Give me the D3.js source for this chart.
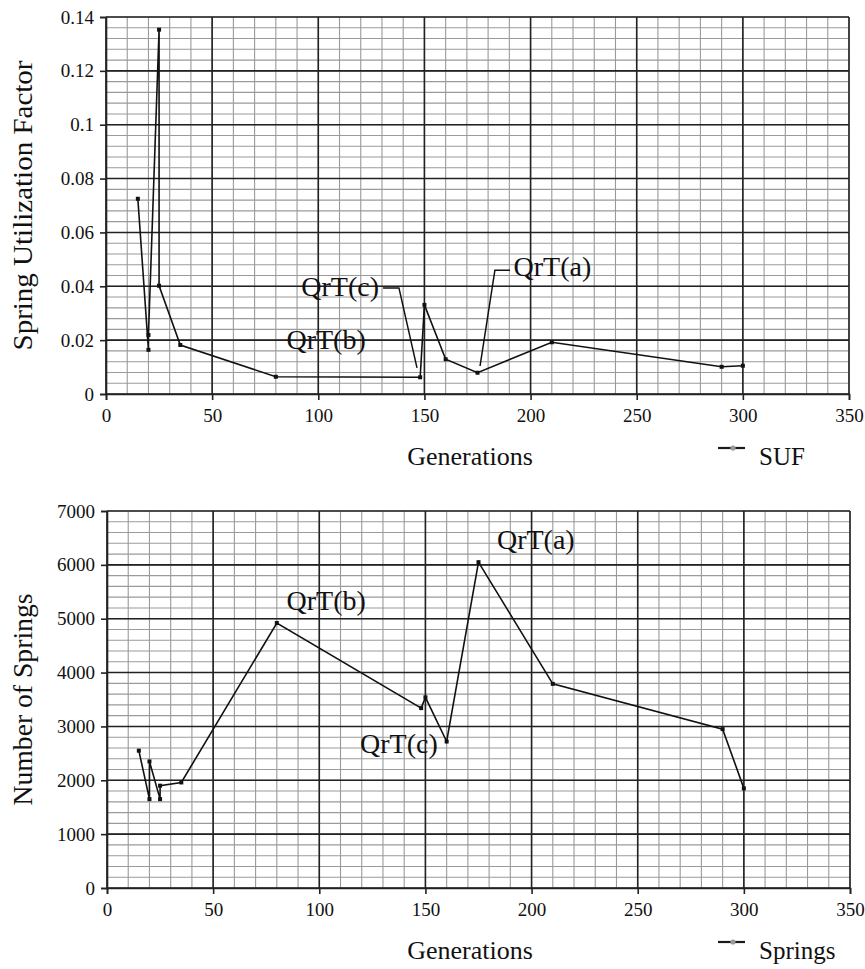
<!DOCTYPE html>
<html>
<head>
<meta charset="utf-8">
<script src="https://cdn.jsdelivr.net/npm/d3@7"></script>
<style>
  body { margin: 0; background: #fff; }
  svg text { font-family: "Liberation Serif", "Times New Roman", serif; fill: #111; }
</style>
</head>
<body>
<svg id="chart" width="865" height="969" font-family="Liberation Serif, serif"></svg>
<script>
// generations where each design was recorded (same for both panels)
var generations = [15, 20, 20, 25, 25, 35, 80, 148, 150, 160, 175, 210, 290, 300];

// top panel: spring utilization factor
var sufValues = [0.0725, 0.0164, 0.0219, 0.1353, 0.0402, 0.0182, 0.0064, 0.0062, 0.0331, 0.0129, 0.0079, 0.0192, 0.0101, 0.0105];

// bottom panel: number of springs
var springValues = [2550, 1650, 2350, 1650, 1900, 1960, 4920, 3340, 3540, 2720, 6050, 3790, 2950, 1850];

// axis ticks
var xTicks = [0, 50, 100, 150, 200, 250, 300, 350];
var sufTicks = [0, 0.02, 0.04, 0.06, 0.08, 0.1, 0.12, 0.14];
var sufTickLabels = ["0", "0.02", "0.04", "0.06", "0.08", "0.1", "0.12", "0.14"];
var springTicks = [0, 1000, 2000, 3000, 4000, 5000, 6000, 7000];
var springTickLabels = ["0", "1000", "2000", "3000", "4000", "5000", "6000", "7000"];

// annotations, anchored in data units
var sufNotes = [
  { text: "QrT(c)", x: 92, y: 0.0364, leader: [[130.5, 0.0394], [138, 0.0394], [146.5, 0.0097]] },
  { text: "QrT(a)", x: 192, y: 0.0438, leader: [[190.3, 0.046], [183.2, 0.046], [176.2, 0.0104]] },
  { text: "QrT(b)", x: 85, y: 0.0167, leader: null }
];
var springNotes = [
  { text: "QrT(b)", x: 84.6, y: 5160 },
  { text: "QrT(a)", x: 183.7, y: 6290 },
  { text: "QrT(c)", x: 119.2, y: 2505 }
];

var svg = d3.select('#chart');
var serif = '"Liberation Serif", "Times New Roman", serif';

function drawPanel(opts) {
  var g = svg.append('g');
  var x = d3.scaleLinear().domain([0, 350]).range([opts.left, opts.right]);
  var y = d3.scaleLinear().domain([0, opts.yMax]).range([opts.bottom, opts.top]);

  //minor grid
  g.selectAll('.vminor').data(d3.range(0, 351, 10))
    .enter().append('line')
    .attr('x1', function(d) { return x(d); }).attr('x2', function(d) { return x(d); })
    .attr('y1', opts.top).attr('y2', opts.bottom)
    .style('stroke', '#9a9a9a').style('stroke-width', 1.1);
  g.selectAll('.hminor').data(d3.range(0, opts.yMax * 1.0001, opts.yMinor))
    .enter().append('line')
    .attr('x1', opts.left).attr('x2', opts.right)
    .attr('y1', function(d) { return y(d); }).attr('y2', function(d) { return y(d); })
    .style('stroke', '#9a9a9a').style('stroke-width', 1.1);

  //major grid
  g.selectAll('.vmajor').data(xTicks)
    .enter().append('line')
    .attr('x1', function(d) { return x(d); }).attr('x2', function(d) { return x(d); })
    .attr('y1', opts.top).attr('y2', opts.bottom)
    .style('stroke', '#222').style('stroke-width', 1.6);
  g.selectAll('.hmajor').data(opts.yTicks)
    .enter().append('line')
    .attr('x1', opts.left).attr('x2', opts.right)
    .attr('y1', function(d) { return y(d); }).attr('y2', function(d) { return y(d); })
    .style('stroke', '#222').style('stroke-width', 1.6);

  //axes
  var xAxis = d3.axisBottom(x).tickValues(xTicks).tickSize(6).tickPadding(9);
  var yAxis = d3.axisLeft(y).tickValues(opts.yTicks).tickSize(6).tickPadding(6)
    .tickFormat(function(d, i) { return opts.yLabels[i]; });

  var gx = g.append('g').attr('transform', 'translate(0,' + opts.bottom + ')').call(xAxis);
  var gy = g.append('g').attr('transform', 'translate(' + opts.left + ',0)').call(yAxis);
  [gx, gy].forEach(function(a) {
    a.attr('font-family', serif).attr('font-size', 19);
    a.select('.domain').style('stroke', '#222').style('stroke-width', 1.6);
    a.selectAll('.tick line').style('stroke', '#222').style('stroke-width', 1.6);
    a.selectAll('.tick text').attr('font-family', serif).style('font-family', serif)
      .style('font-size', '19px').style('fill', '#111');
  });

  //axis titles
  g.append('text')
    .attr('x', 470).attr('y', opts.bottom + 71)
    .attr('text-anchor', 'middle').style('font-size', '26px')
    .text('Generations');
  g.append('text')
    .attr('transform', 'translate(32,' + ((opts.top + opts.bottom) / 2) + ') rotate(-90)')
    .attr('text-anchor', 'middle')
    .style('font-family', serif).style('font-size', '27px')
    .attr('textLength', opts.yTitleLen).attr('lengthAdjust', 'spacingAndGlyphs')
    .text(opts.yTitle);

  //data line
  var pts = generations.map(function(d, i) { return [d, opts.values[i]]; });
  var line = d3.line().x(function(d) { return x(d[0]); }).y(function(d) { return y(d[1]); });
  g.append('path').datum(pts)
    .attr('d', line)
    .style('fill', 'none').style('stroke', '#111').style('stroke-width', 1.6);
  g.selectAll('.pt').data(pts)
    .enter().append('rect')
    .attr('x', function(d) { return x(d[0]) - 2; })
    .attr('y', function(d) { return y(d[1]) - 2; })
    .attr('width', 4).attr('height', 4)
    .style('fill', '#111');

  //annotations
  opts.notes.forEach(function(n) {
    g.append('text')
      .attr('x', x(n.x)).attr('y', y(n.y))
      .style('font-size', '28px')
      .text(n.text);
    if (n.leader) {
      g.append('path').datum(n.leader)
        .attr('d', line)
        .style('fill', 'none').style('stroke', '#111').style('stroke-width', 1.5);
    }
  });

  //legend
  var ly = opts.bottom + 54;
  g.append('path').attr('d', 'M718,' + ly + 'H745')
    .style('stroke', '#1a1a1a').style('stroke-width', 2.2).style('fill', 'none');
  g.append('circle').attr('cx', 733).attr('cy', ly).attr('r', 2.6).style('fill', '#9a9a9a');
  g.append('text').attr('x', 759).attr('y', opts.bottom + 71)
    .style('font-size', '25px')
    .text(opts.legend);
}

drawPanel({
  left: 106, right: 849, top: 17, bottom: 394,
  yMax: 0.14, yMinor: 0.004, yTicks: sufTicks, yLabels: sufTickLabels,
  values: sufValues, notes: sufNotes,
  yTitle: 'Spring Utilization Factor', yTitleLen: 290, legend: 'SUF'
});

drawPanel({
  left: 107, right: 850, top: 511, bottom: 888,
  yMax: 7000, yMinor: 200, yTicks: springTicks, yLabels: springTickLabels,
  values: springValues, notes: springNotes,
  yTitle: 'Number of Springs', yTitleLen: 212, legend: 'Springs'
});
</script>
</body>
</html>
